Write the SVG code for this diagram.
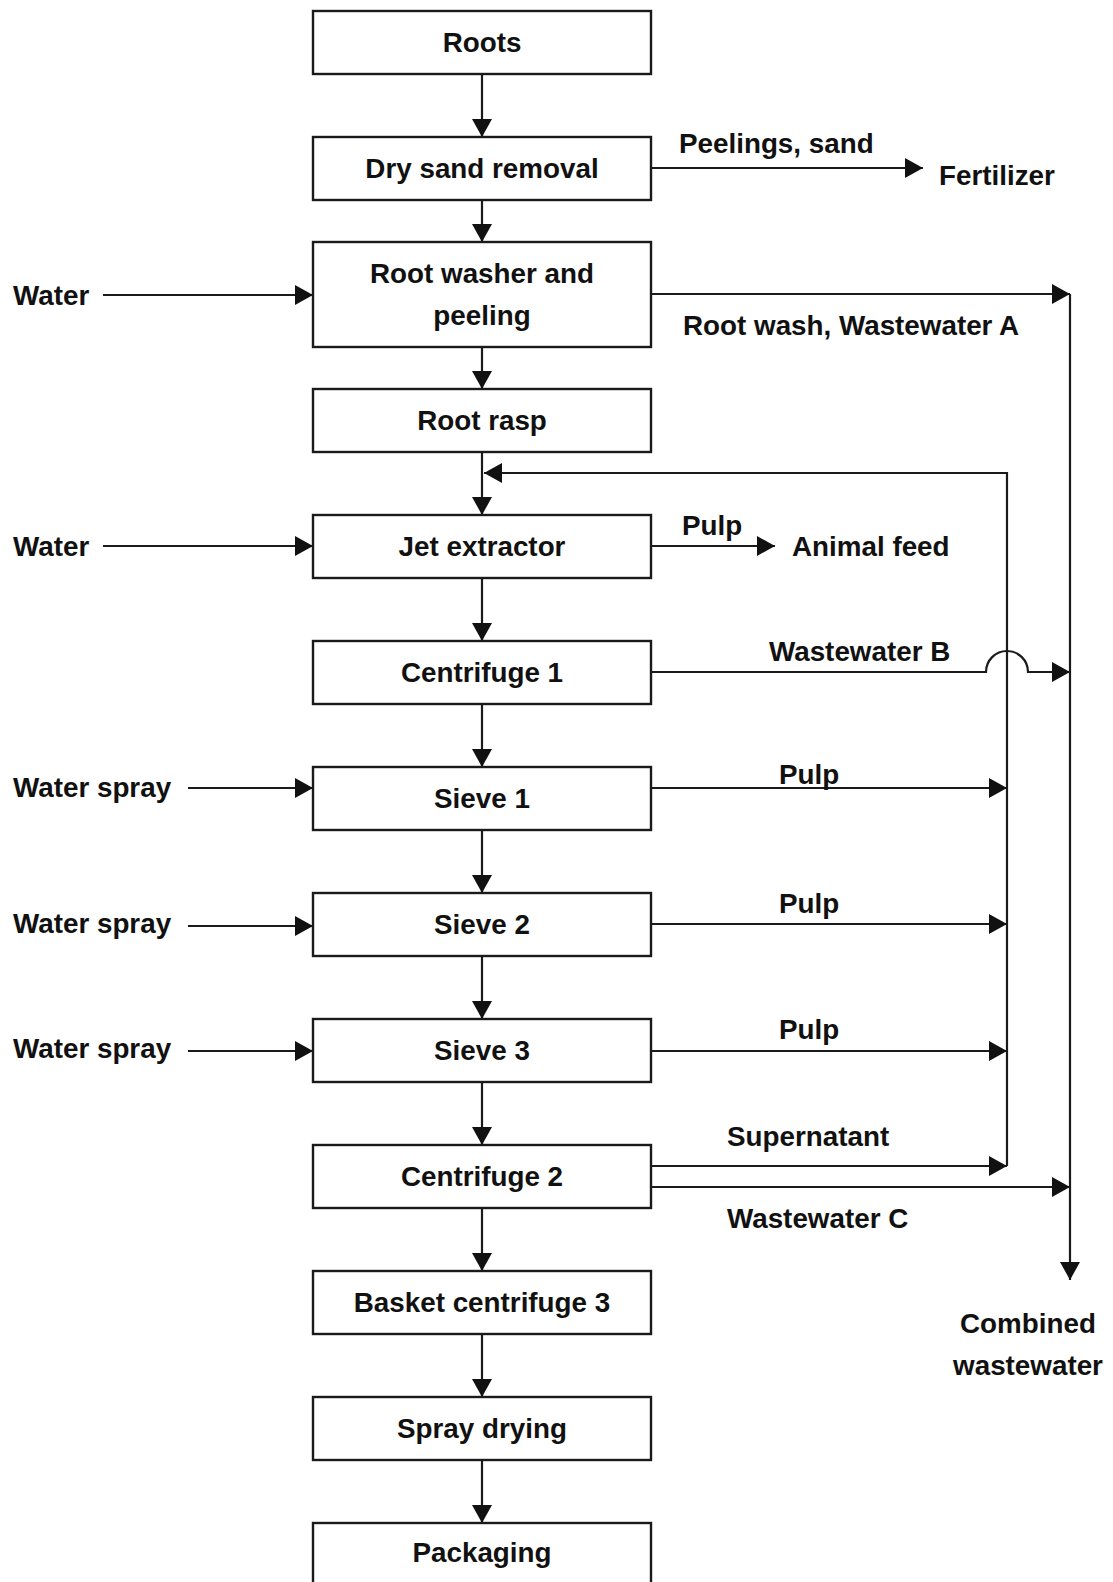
<svg xmlns="http://www.w3.org/2000/svg" width="1113" height="1582" viewBox="0 0 1113 1582">
<style>
.box{fill:#fff;stroke:#1a1a1a;stroke-width:2.4}
.t{font-family:"Liberation Sans",Arial,sans-serif;font-weight:bold;font-size:27.8px;fill:#111}
.c{text-anchor:middle}
.ln{fill:none;stroke:#1a1a1a;stroke-width:2.2}
</style>
<defs>
<marker id="ah" markerUnits="userSpaceOnUse" markerWidth="18" markerHeight="20" refX="18" refY="10" orient="auto" viewBox="0 0 18 20">
<path d="M0,0 L18,10 L0,20 z" fill="#111"/>
</marker>
</defs>
<rect width="1113" height="1582" fill="#fff"/>

<g id="connectors">
<path class="ln" d="M482,74 V137" marker-end="url(#ah)"/>
<path class="ln" d="M482,200 V242" marker-end="url(#ah)"/>
<path class="ln" d="M482,347 V389" marker-end="url(#ah)"/>
<path class="ln" d="M482,452 V515" marker-end="url(#ah)"/>
<path class="ln" d="M482,578 V641" marker-end="url(#ah)"/>
<path class="ln" d="M482,704 V767" marker-end="url(#ah)"/>
<path class="ln" d="M482,830 V893" marker-end="url(#ah)"/>
<path class="ln" d="M482,956 V1019" marker-end="url(#ah)"/>
<path class="ln" d="M482,1082 V1145" marker-end="url(#ah)"/>
<path class="ln" d="M482,1208 V1271" marker-end="url(#ah)"/>
<path class="ln" d="M482,1334 V1397" marker-end="url(#ah)"/>
<path class="ln" d="M482,1460 V1523" marker-end="url(#ah)"/>
<path class="ln" d="M103,295 H313" marker-end="url(#ah)"/>
<path class="ln" d="M103,546 H313" marker-end="url(#ah)"/>
<path class="ln" d="M188,788 H313" marker-end="url(#ah)"/>
<path class="ln" d="M188,926 H313" marker-end="url(#ah)"/>
<path class="ln" d="M188,1051 H313" marker-end="url(#ah)"/>
<path class="ln" d="M651,168 H923" marker-end="url(#ah)"/>
<path class="ln" d="M651,294 H1070" marker-end="url(#ah)"/>
<path class="ln" d="M651,546 H775" marker-end="url(#ah)"/>
<path class="ln" d="M651,672 H986 A21,21 0 0 1 1028,672 H1070" marker-end="url(#ah)"/>
<path class="ln" d="M651,788 H1007" marker-end="url(#ah)"/>
<path class="ln" d="M651,924 H1007" marker-end="url(#ah)"/>
<path class="ln" d="M651,1051 H1007" marker-end="url(#ah)"/>
<path class="ln" d="M651,1166 H1007" marker-end="url(#ah)"/>
<path class="ln" d="M651,1187 H1070" marker-end="url(#ah)"/>
<path class="ln" d="M1007,1166 V473 H484" marker-end="url(#ah)"/>
<path class="ln" d="M1070,294 V1280" marker-end="url(#ah)"/>
</g>

<g id="labels">
<text class="t" x="13" y="305">Water</text>
<text class="t" x="13" y="556">Water</text>
<text class="t" x="13" y="797">Water spray</text>
<text class="t" x="13" y="933">Water spray</text>
<text class="t" x="13" y="1058">Water spray</text>
<text class="t" x="679" y="153">Peelings, sand</text>
<text class="t" x="939" y="185">Fertilizer</text>
<text class="t" x="683" y="335">Root wash, Wastewater A</text>
<text class="t" x="682" y="535">Pulp</text>
<text class="t" x="792" y="556">Animal feed</text>
<text class="t" x="769" y="661">Wastewater B</text>
<text class="t" x="779" y="784">Pulp</text>
<text class="t" x="779" y="913">Pulp</text>
<text class="t" x="779" y="1039">Pulp</text>
<text class="t" x="727" y="1146">Supernatant</text>
<text class="t" x="727" y="1228">Wastewater C</text>
<text class="t c" x="1028" y="1333">Combined</text>
<text class="t c" x="1028" y="1375">wastewater</text>
</g>

<g id="n-roots"><rect class="box" x="313" y="11" width="338" height="63"/><text class="t c" x="482" y="52">Roots</text></g>
<g id="n-dry"><rect class="box" x="313" y="137" width="338" height="63"/><text class="t c" x="482" y="178">Dry sand removal</text></g>
<g id="n-washer"><rect class="box" x="313" y="242" width="338" height="105"/><text class="t c" x="482" y="283">Root washer and</text><text class="t c" x="482" y="325">peeling</text></g>
<g id="n-rasp"><rect class="box" x="313" y="389" width="338" height="63"/><text class="t c" x="482" y="430">Root rasp</text></g>
<g id="n-jet"><rect class="box" x="313" y="515" width="338" height="63"/><text class="t c" x="482" y="556">Jet extractor</text></g>
<g id="n-c1"><rect class="box" x="313" y="641" width="338" height="63"/><text class="t c" x="482" y="682">Centrifuge 1</text></g>
<g id="n-s1"><rect class="box" x="313" y="767" width="338" height="63"/><text class="t c" x="482" y="808">Sieve 1</text></g>
<g id="n-s2"><rect class="box" x="313" y="893" width="338" height="63"/><text class="t c" x="482" y="934">Sieve 2</text></g>
<g id="n-s3"><rect class="box" x="313" y="1019" width="338" height="63"/><text class="t c" x="482" y="1060">Sieve 3</text></g>
<g id="n-c2"><rect class="box" x="313" y="1145" width="338" height="63"/><text class="t c" x="482" y="1186">Centrifuge 2</text></g>
<g id="n-basket"><rect class="box" x="313" y="1271" width="338" height="63"/><text class="t c" x="482" y="1312">Basket centrifuge 3</text></g>
<g id="n-spray"><rect class="box" x="313" y="1397" width="338" height="63"/><text class="t c" x="482" y="1438">Spray drying</text></g>
<g id="n-pack"><rect class="box" x="313" y="1523" width="338" height="70"/><text class="t c" x="482" y="1562">Packaging</text></g>
</svg>
